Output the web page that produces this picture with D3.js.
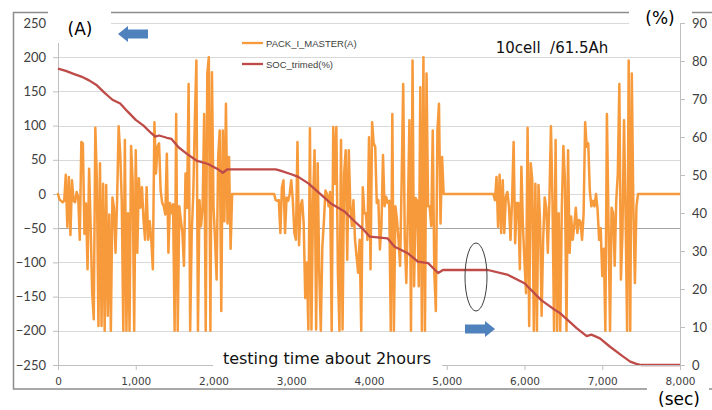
<!DOCTYPE html>
<html>
<head>
<meta charset="utf-8">
<script src="https://cdn.jsdelivr.net/npm/d3@7"></script>
<style>
  html, body { margin: 0; padding: 0; background: #fff; }
  svg { display: block; }
</style>
</head>
<body>
<svg id="chart" width="712" height="410"></svg>
<script>
// ---------------- DATA ----------------
const timeTicks = [0, 1000, 2000, 3000, 4000, 5000, 6000, 7000, 8000];
const currentTicks = [-250, -200, -150, -100, -50, 0, 50, 100, 150, 200, 250];
const socTicks = [0, 10, 20, 30, 40, 50, 60, 70, 80, 90];

const seriesNames = ["PACK_I_MASTER(A)", "SOC_trimed(%)"];

const sampleStep = 20;
const block1Start = 0;
const block1Current = [
  0, -8, -10, -12, -10, 28, -48, 25, -60, 20,
  -10, -12, 3, -5, -67, 76, 74, -58, -14, -110,
  37, -48, -145, -183, 97, 20, -193, 45, -193, 15,
  -200, 13, -178, -30, -200, -5, -20, -86, -10, 99,
  60, -10, -200, 79, -200, -28, -200, 70, 20, -200,
  64, -86, 23, -20, 10, -38, -67, 10, -67, -40,
  -67, -110, 105, 30, 69, 74, 5, -13, -18, -30,
  59, -86, -13, -28, -15, -200, 117, -200, -18, -38,
  -57, -105, 30, -20, 161, -200, -57, 0, 108, 195,
  -200, -9, -47, -20, 117, -200, 176, 200, -200, 178,
  -18, -67, -125, 54, 93, -171, 93, -40, 132, -43,
  54, -80, 0
];
const block2Start = 2780;
const block2Current = [
  0, -9, -10, -9, -57, 10, 20, -57, -5, -10,
  0, 20, -9, -57, -67, 76, -75, -18, -9, -43,
  -152, -100, -198, 96, -198, -13, 64, -198, 45, -115,
  -200, -77, -40, 5, 0, -18, 3, -200, 98, 15,
  98, -115, -200, 79, -198, 30, 64, -96, 64, -18,
  -47, -9, -67, -91, -115, -67, -200, 10, -28, -28,
  -67, 83, -110, 105, 74, 69, -13, -9, -81, -47,
  57, -18, -4, -13, -10, -200, 117, -200, -18, -38,
  -67, -105, 20, 161, -67, -130, -28, 108, -200, 195,
  -135, -6, -10, -135, 156, -200, 200, -200, 176, -18,
  -18, -47, 93, -115, -171, 93, 132, -43, 54, 0
];
const block3Start = 5600;
const block3Current = [
  0, -9, 25, -48, 28, -57, 20, -57, -4, 3,
  -18, -67, -10, 76, -72, -13, -13, -110, 40, -47,
  -100, -145, 97, -193, 45, 20, -200, 15, -200, 13,
  -40, -178, -67, -5, -20, -86, -10, 99, -9, -200,
  79, -200, -28, -200, -20, 70, 20, -200, 64, -86,
  -33, -67, -47, -20, -57, -38, -40, -67, -30, 105,
  69, 74, 5, -18, -10, -18, 0, -23, -67, -50,
  -120, -80, -200, 117, -38, -200, -20, -28, -105, -10,
  30, 161, -125, -57, 108, -30, -200, 195, -200, 176,
  -18, -130, -18, 0
];
const endTime = 8000;

// SOC_trimed(%)
const socTimes = [0, 100, 200, 300, 400, 500, 600, 700, 800, 900,
  1000, 1100, 1200, 1250, 1300, 1400, 1460, 1550, 1650, 1780,
  1930, 2050, 2120, 2180, 2800, 2850, 3000, 3090, 3220, 3390,
  3510, 3690, 3820, 3920, 4010, 4240, 4330, 4500, 4630, 4760,
  4890, 4950, 5530, 5790, 6000, 6170, 6220, 6390, 6460, 6600,
  6670, 6800, 6860, 6970, 7100, 7270, 7360, 7440, 7500, 8000];
const socValues = [78, 77.4, 76.6, 75.9, 74.9, 73.6, 71.6, 69.8, 68.8, 66.6,
  64.5, 63, 61, 60.1, 60.4, 59.8, 59.5, 57.3, 55.7, 53.8,
  52.9, 51.6, 50.6, 51.5, 51.5, 51.2, 50.2, 49.5, 47.8, 44.7,
  42.5, 40.3, 37.7, 35.8, 33.8, 33.3, 31.1, 29.4, 27.2, 26.8,
  24.2, 25, 25, 23.7, 21.5, 18, 17, 14.5, 13.6, 11,
  9.7, 7.6, 8, 7, 4.8, 2.2, 0.9, 0.3, 0, 0];

// ---------------- BUILD ----------------
const currentPoints = [];
[[block1Start, block1Current], [block2Start, block2Current], [block3Start, block3Current]]
  .forEach(([start, vals]) => vals.forEach((v, i) => currentPoints.push([start + i * sampleStep, v])));
currentPoints.push([endTime, 0]);
const socPoints = socTimes.map((t, i) => [t, socValues[i]]);

const svg = d3.select("#chart");
const W = 712, H = 410;
const plot = { left: 58, right: 680, top: 23, bottom: 365 };

const x = d3.scaleLinear().domain([0, 8000]).range([plot.left, plot.right]);
const yL = d3.scaleLinear().domain([-250, 250]).range([plot.bottom, plot.top]);
const yR = d3.scaleLinear().domain([0, 90]).range([plot.bottom, plot.top]);

const orange = "#F79A3B";
const red = "#BE4B48";
const blue = "#4F81BD";
const axisGray = "#BFBFBF";

svg.append("rect").attr("width", W).attr("height", H).attr("fill", "#fff");

// outer frame
svg.append("rect")
  .attr("x", 13.5).attr("y", 12.5).attr("width", 710).attr("height", 376.5)
  .attr("fill", "none").attr("stroke", "#8C8C8C").attr("stroke-width", 1.5);

// gridlines
svg.append("g").selectAll("line").data(currentTicks.filter(d => d > -250)).join("line")
  .attr("x1", plot.left).attr("x2", plot.right)
  .attr("y1", d => Math.round(yL(d)) + 0.5).attr("y2", d => Math.round(yL(d)) + 0.5)
  .attr("stroke", d => d === -50 ? "#A6A6A6" : "#D9D9D9").attr("stroke-width", 1);

// axes
function styleAxis(g, fontFamily, fontSize) {
  g.select(".domain").attr("stroke", axisGray);
  g.selectAll(".tick line").attr("stroke", axisGray);
  g.selectAll(".tick text").attr("fill", "#404040")
    .style("font-family", fontFamily).style("font-size", fontSize + "px");
}
const gx = svg.append("g").attr("transform", `translate(0,${plot.bottom})`)
  .call(d3.axisBottom(x).tickValues(timeTicks).tickFormat(d3.format(",")).tickSize(5).tickSizeOuter(0).tickPadding(8));
styleAxis(gx, "DejaVu Sans", 10.5);

const gl = svg.append("g").attr("transform", `translate(${plot.left},0)`)
  .call(d3.axisLeft(yL).tickValues(currentTicks).tickSize(5).tickSizeOuter(0).tickPadding(7));
styleAxis(gl, "Lato", 13);

const gr = svg.append("g").attr("transform", `translate(${plot.right},0)`)
  .call(d3.axisRight(yR).tickValues(socTicks).tickSize(5).tickSizeOuter(0).tickPadding(7));
styleAxis(gr, "Lato", 13);

// series
svg.append("path").datum(currentPoints)
  .attr("d", d3.line().x(d => x(d[0])).y(d => yL(d[1])))
  .attr("fill", "none").attr("stroke", orange).attr("stroke-width", 2.5)
  .attr("stroke-linejoin", "round").attr("stroke-linecap", "round");

svg.append("path").datum(socPoints)
  .attr("d", d3.line().x(d => x(d[0])).y(d => yR(d[1])))
  .attr("fill", "none").attr("stroke", red).attr("stroke-width", 2.3)
  .attr("stroke-linejoin", "round");

// white label boxes (cover frame/axis like in the picture)
const boxes = [
  { x: 48, y: 0, w: 63, h: 43 },
  { x: 629, y: 0, w: 63, h: 32 },
  { x: 647, y: 387, w: 62, h: 23 },
  { x: 213, y: 342, w: 229, h: 32 }
];
svg.append("g").selectAll("rect").data(boxes).join("rect")
  .attr("x", d => d.x).attr("y", d => d.y).attr("width", d => d.w).attr("height", d => d.h)
  .attr("fill", "#fff");

// re-draw tick labels on top of boxes
gx.raise();
gx.select(".domain").remove();
svg.append("line").attr("x1", plot.left).attr("x2", 213).attr("y1", plot.bottom + 0.5).attr("y2", plot.bottom + 0.5).attr("stroke", axisGray);
svg.append("line").attr("x1", 442).attr("x2", plot.right).attr("y1", plot.bottom + 0.5).attr("y2", plot.bottom + 0.5).attr("stroke", axisGray);
gx.selectAll(".tick line").attr("display", d => (x(d) > 213 && x(d) < 442) ? "none" : null);
gr.raise();

// unit labels & annotations
const txt = (s, px, py, size, anchor, color, family) =>
  svg.append("text").attr("x", px).attr("y", py).attr("text-anchor", anchor || "start")
    .attr("dominant-baseline", "central")
    .style("font-family", family || "DejaVu Sans").style("font-size", size + "px")
    .attr("fill", color || "#000").text(s);

txt("(A)", 80, 29, 17, "middle");
txt("(%)", 660, 18, 17, "middle");
txt("(sec)", 679, 399, 17, "middle");
txt("10cell  /61.5Ah", 552, 48, 15, "middle", "#111").attr("xml:space", "preserve").style("white-space", "pre");
txt("testing time about 2hours", 327, 358, 16, "middle", "#111");

// legend
const legend = svg.append("g");
[[orange, 43], [red, 64]].forEach(([c, ly], i) => {
  legend.append("line").attr("x1", 242).attr("x2", 263).attr("y1", ly).attr("y2", ly)
    .attr("stroke", c).attr("stroke-width", 2.3);
  legend.append("text").attr("x", 266).attr("y", ly).attr("dominant-baseline", "central")
    .style("font-family", "Liberation Sans").style("font-size", "9.5px").attr("fill", "#404040")
    .text(seriesNames[i]);
});

// arrows
function arrow(x0, x1, cy, dir) {
  const bodyH = 4.5, headH = 8, headL = 10;
  let pts;
  if (dir < 0) {
    pts = [[x0, cy], [x0 + headL, cy - headH], [x0 + headL, cy - bodyH], [x1, cy - bodyH],
           [x1, cy + bodyH], [x0 + headL, cy + bodyH], [x0 + headL, cy + headH]];
  } else {
    pts = [[x1, cy], [x1 - headL, cy - headH], [x1 - headL, cy - bodyH], [x0, cy - bodyH],
           [x0, cy + bodyH], [x1 - headL, cy + bodyH], [x1 - headL, cy + headH]];
  }
  svg.append("polygon").attr("points", pts.map(p => p.join(",")).join(" ")).attr("fill", blue);
}
arrow(118, 148, 34, -1);
arrow(465, 495, 329, 1);

// rotation mark
svg.append("ellipse").attr("cx", 476).attr("cy", 277).attr("rx", 11).attr("ry", 34)
  .attr("fill", "none").attr("stroke", "#404040").attr("stroke-width", 1);
</script>
</body>
</html>
